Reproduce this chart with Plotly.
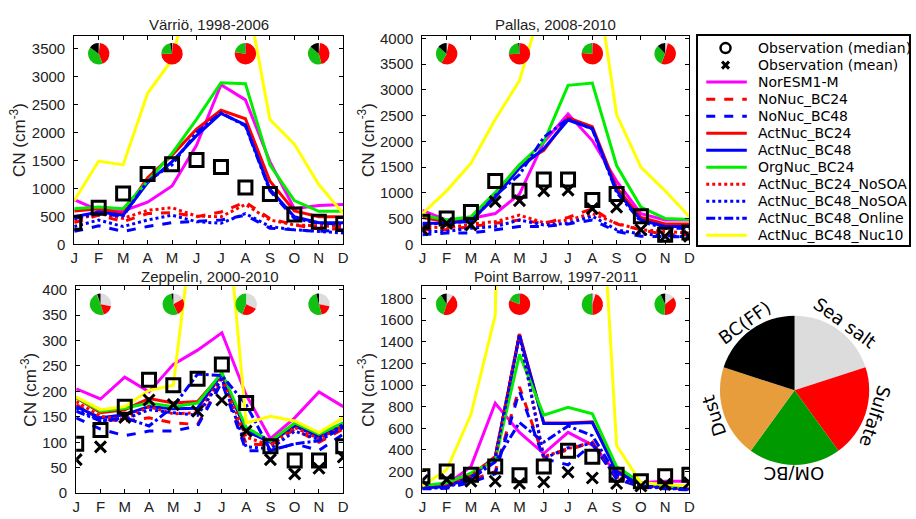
import math
import plotly.graph_objects as go

W, H = 916, 519

months = [1, 2, 3, 4, 5, 6, 7, 8, 9, 10, 11, 12]
month_labels = ["J", "F", "M", "A", "M", "J", "J", "A", "S", "O", "N", "D"]

series_names = ["NorESM1-M", "NoNuc_BC24", "NoNuc_BC48", "ActNuc_BC24", "ActNuc_BC48",
                "OrgNuc_BC24", "ActNuc_BC24_NoSOA", "ActNuc_BC48_NoSOA",
                "ActNuc_BC48_Online", "ActNuc_BC48_Nuc10"]

# ---------------- Värriö ----------------
varrio_obs_median = [389, 656, 911, 1259, 1434, 1509, 1381, 1016, 900, 534, 406, 366]
varrio_obs_mean = [None, None, None, None, None, None, None, None, None, None, None, None]
varrio_noresm = [800, 610, 598, 755, 1045, 1770, 2855, 2583, 1480, 638, 696, 714]
varrio_nonuc24 = [389, 522, 406, 551, 569, 493, 580, 755, 464, 348, 273, 273]
varrio_nonuc48 = [232, 331, 232, 319, 389, 406, 435, 522, 290, 261, 232, 261]
varrio_act24 = [598, 638, 551, 1190, 1596, 2060, 2397, 2246, 1132, 598, 493, 493]
varrio_act48 = [493, 580, 522, 1103, 1480, 1944, 2339, 2136, 987, 493, 389, 389]
varrio_org24 = [638, 667, 638, 1130, 1625, 2235, 2890, 2873, 1422, 783, 592, 592]
varrio_act24_nosoa = [435, 551, 464, 609, 656, 505, 493, 714, 435, 348, 331, 319]
varrio_act48_nosoa = [319, 435, 319, 435, 522, 406, 377, 551, 319, 261, 232, 203]
varrio_online = [464, 551, 505, 1132, 1422, 2002, 2351, 2118, 958, 464, 377, 366]
varrio_nuc10 = [780, 1490, 1420, 2700, 3300, 5100, 5500, 4600, 2230, 1790, 1070, 550]

# ---------------- Pallas ----------------
pallas_obs_median = [441, 504, 630, 1228, 1039, 1259, 1259, 863, 976, 548, 189, 233]
pallas_obs_mean = [283, 409, 378, 831, 850, 1039, 1052, 693, 724, 283, 157, 157]
pallas_noresm = [661, 472, 504, 598, 976, 1984, 2531, 2015, 1228, 598, 472, 472]
pallas_nonuc24 = [283, 283, 346, 409, 472, 409, 523, 693, 397, 283, 189, 189]
pallas_nonuc48 = [189, 220, 220, 283, 346, 346, 397, 472, 252, 157, 145, 145]
pallas_act24 = [523, 441, 504, 976, 1543, 1826, 2456, 2286, 1102, 523, 397, 397]
pallas_act48 = [409, 409, 460, 913, 1480, 1858, 2412, 2248, 1039, 472, 346, 346]
pallas_org24 = [567, 472, 535, 1008, 1543, 1984, 3086, 3130, 1530, 724, 504, 485]
pallas_act24_nosoa = [346, 315, 397, 441, 567, 422, 472, 598, 409, 283, 252, 220]
pallas_act48_nosoa = [252, 252, 315, 346, 472, 378, 409, 548, 283, 202, 170, 145]
pallas_online = [378, 422, 441, 945, 1354, 2078, 2437, 2235, 1008, 441, 315, 315]
pallas_nuc10 = [598, 1039, 1574, 2424, 3180, 4780, 6000, 5700, 2519, 1499, 1039, 535]

# ---------------- Zeppelin ----------------
zeppelin_obs_median = [97, 124, 170, 223, 212, 225, 253, 177, 92, 64, 64, 92]
zeppelin_obs_mean = [66, 91, 149, 183, 174, 161, 183, 122, 66, 38, 49, 71]
zeppelin_noresm = [205, 185, 228, 199, 253, 281, 315, 193, 107, 148, 199, 170]
zeppelin_nonuc24 = [174, 145, 142, 148, 138, 135, 221, 97, 94, 126, 100, 126]
zeppelin_nonuc48 = [148, 126, 113, 122, 122, 132, 218, 83, 84, 97, 84, 116]
zeppelin_act24 = [188, 158, 164, 186, 177, 180, 234, 126, 103, 135, 113, 135]
zeppelin_act48 = [170, 148, 154, 170, 166, 167, 234, 122, 100, 132, 110, 132]
zeppelin_org24 = [188, 161, 167, 177, 170, 177, 237, 129, 102, 138, 116, 138]
zeppelin_act24_nosoa = [180, 151, 145, 170, 156, 158, 228, 110, 94, 129, 107, 132]
zeppelin_act48_nosoa = [167, 142, 145, 164, 158, 153, 225, 91, 87, 122, 105, 135]
zeppelin_online = [161, 142, 148, 132, 170, 234, 231, 174, 84, 97, 103, 129]
zeppelin_nuc10 = [189, 164, 170, 202, 212, 600, 660, 138, 151, 142, 119, 148]

# ---------------- Point Barrow ----------------
barrow_obs_median = [156, 201, 171, 247, 165, 247, 392, 337, 171, 111, 156, 171]
barrow_obs_mean = [117, 126, 111, 110, 90, 103, 194, 140, 90, 66, 81, 96]
barrow_noresm = [66, 81, 246, 832, 562, 367, 562, 445, 186, 96, 111, 111]
barrow_nonuc24 = [50, 55, 120, 200, 983, 330, 400, 470, 150, 70, 50, 40]
barrow_nonuc48 = [40, 45, 100, 180, 944, 320, 262, 457, 130, 60, 40, 30]
barrow_act24 = [55, 66, 165, 335, 1470, 650, 650, 660, 210, 85, 55, 45]
barrow_act48 = [51, 60, 150, 330, 1460, 644, 644, 653, 200, 81, 51, 40]
barrow_org24 = [66, 96, 186, 306, 1284, 721, 794, 734, 246, 96, 66, 51]
barrow_act24_nosoa = [50, 60, 160, 340, 1479, 337, 412, 472, 150, 70, 50, 40]
barrow_act48_nosoa = [45, 55, 140, 320, 1470, 320, 420, 460, 140, 65, 45, 35]
barrow_online = [45, 55, 130, 290, 653, 472, 622, 532, 170, 75, 50, 40]
barrow_nuc10 = [66, 216, 727, 1643, 11000, 9000, 7000, 4300, 441, 96, 81, 66]

# ---------------- Composition pies (sea salt, sulfate, OM/BC, dust, BC(FF)) ----------------
pie_months = [2, 5, 8, 11]
varrio_pie_feb = [0.02, 0.42, 0.41, 0.0, 0.15]
varrio_pie_may = [0.01, 0.74, 0.22, 0.0, 0.03]
varrio_pie_aug = [0.01, 0.76, 0.22, 0.0, 0.01]
varrio_pie_nov = [0.02, 0.44, 0.40, 0.0, 0.14]
pallas_pie_feb = [0.03, 0.55, 0.28, 0.0, 0.14]
pallas_pie_may = [0.01, 0.73, 0.24, 0.0, 0.02]
pallas_pie_aug = [0.01, 0.75, 0.23, 0.0, 0.01]
pallas_pie_nov = [0.04, 0.52, 0.32, 0.0, 0.12]
zeppelin_pie_feb = [0.28, 0.17, 0.49, 0.01, 0.05]
zeppelin_pie_may = [0.17, 0.26, 0.54, 0.0, 0.03]
zeppelin_pie_aug = [0.32, 0.24, 0.44, 0.0, 0.0]
zeppelin_pie_nov = [0.28, 0.18, 0.50, 0.0, 0.04]
barrow_pie_feb = [0.10, 0.45, 0.36, 0.0, 0.09]
barrow_pie_may = [0.01, 0.80, 0.18, 0.0, 0.01]
barrow_pie_aug = [0.05, 0.45, 0.49, 0.0, 0.01]
barrow_pie_nov = [0.14, 0.37, 0.42, 0.0, 0.07]

key_labels = ["Sea salt", "Sulfate", "OM/BC", "Dust", "BC(FF)"]
key_values = [1, 1, 1, 1, 1]

# ---------------- styles ----------------
styles = {
    "NorESM1-M": ("#FF00FF", "solid"),
    "NoNuc_BC24": ("#FF0000", "dash"),
    "NoNuc_BC48": ("#0000FF", "dash"),
    "ActNuc_BC24": ("#FF0000", "solid"),
    "ActNuc_BC48": ("#0000FF", "solid"),
    "OrgNuc_BC24": ("#00EE00", "solid"),
    "ActNuc_BC24_NoSOA": ("#FF0000", "dot"),
    "ActNuc_BC48_NoSOA": ("#0000FF", "dot"),
    "ActNuc_BC48_Online": ("#0000FF", "dashdot"),
    "ActNuc_BC48_Nuc10": ("#FFFF00", "solid"),
}
small_pie_colors = ["#DCDCDC", "#FF0000", "#11C011", "#E89D3C", "#000000"]
key_pie_colors = ["#DCDCDC", "#FF0000", "#009A00", "#E89D3C", "#000000"]

TICK_FONT = dict(family="Liberation Sans, Arial", size=15, color="#222222")
TEXT_FONT = "DejaVu Sans"

panels = [
    dict(title="Värriö, 1998-2006", px=(71, 343), py=(30.5, 245), yr=[0, 3730], dtick=500,
         median=varrio_obs_median, mean=varrio_obs_mean,
         series=[varrio_noresm, varrio_nonuc24, varrio_nonuc48, varrio_act24, varrio_act48,
                 varrio_org24, varrio_act24_nosoa, varrio_act48_nosoa, varrio_online, varrio_nuc10],
         pies=[varrio_pie_feb, varrio_pie_may, varrio_pie_aug, varrio_pie_nov]),
    dict(title="Pallas, 2008-2010", px=(423, 693), py=(30.5, 245), yr=[0, 4050], dtick=500,
         median=pallas_obs_median, mean=pallas_obs_mean,
         series=[pallas_noresm, pallas_nonuc24, pallas_nonuc48, pallas_act24, pallas_act48,
                 pallas_org24, pallas_act24_nosoa, pallas_act48_nosoa, pallas_online, pallas_nuc10],
         pies=[pallas_pie_feb, pallas_pie_may, pallas_pie_aug, pallas_pie_nov]),
    dict(title="Zeppelin, 2000-2010", px=(73, 343), py=(288, 500.7), yr=[0, 406.5], dtick=50,
         median=zeppelin_obs_median, mean=zeppelin_obs_mean,
         series=[zeppelin_noresm, zeppelin_nonuc24, zeppelin_nonuc48, zeppelin_act24, zeppelin_act48,
                 zeppelin_org24, zeppelin_act24_nosoa, zeppelin_act48_nosoa, zeppelin_online, zeppelin_nuc10],
         pies=[zeppelin_pie_feb, zeppelin_pie_may, zeppelin_pie_aug, zeppelin_pie_nov]),
    dict(title="Point Barrow, 1997-2011", px=(423, 693), py=(288, 500.7), yr=[0, 1914], dtick=200,
         median=barrow_obs_median, mean=barrow_obs_mean,
         series=[barrow_noresm, barrow_nonuc24, barrow_nonuc48, barrow_act24, barrow_act48,
                 barrow_org24, barrow_act24_nosoa, barrow_act48_nosoa, barrow_online, barrow_nuc10],
         pies=[barrow_pie_feb, barrow_pie_may, barrow_pie_aug, barrow_pie_nov]),
]

fig = go.Figure()
layout = dict(width=W, height=H, margin=dict(l=0, r=0, t=0, b=0), showlegend=False,
              paper_bgcolor="white", plot_bgcolor="white", annotations=[])

PIE_R = 11
for i, p in enumerate(panels):
    k = "" if i == 0 else str(i + 1)
    xa, ya = "x" + k, "y" + k
    for name, ys in zip(series_names, p["series"]):
        color, dash = styles[name]
        fig.add_trace(go.Scatter(x=months, y=ys, mode="lines", xaxis=xa, yaxis=ya,
                                 line=dict(color=color, width=3, dash=dash), hoverinfo="skip"))
    fig.add_trace(go.Scatter(x=months, y=p["median"], mode="markers", xaxis=xa, yaxis=ya,
                             marker=dict(symbol="square-open", size=13, color="black",
                                         line=dict(width=3, color="black")), hoverinfo="skip"))
    fig.add_trace(go.Scatter(x=months, y=p["mean"], mode="markers", xaxis=xa, yaxis=ya,
                             marker=dict(symbol="x-thin-open", size=11, color="black",
                                         line=dict(width=3, color="black")), hoverinfo="skip"))
    x0, x1 = p["px"]
    y0, y1 = p["py"]
    layout["xaxis" + k] = dict(domain=[x0 / W, x1 / W], range=[1, 12], tickvals=months,
                               ticktext=month_labels, ticks="inside", ticklen=4, mirror="ticks",
                               showline=True, linecolor="black", linewidth=1, showgrid=False,
                               zeroline=False, anchor=ya, tickfont=TICK_FONT, tickcolor="black",
                               ticklabelstandoff=0)
    layout["yaxis" + k] = dict(domain=[1 - y1 / H, 1 - y0 / H], range=p["yr"], dtick=p["dtick"],
                               tick0=0, ticks="inside", ticklen=4, mirror="ticks", showline=True,
                               linecolor="black", linewidth=1, showgrid=False, zeroline=False,
                               anchor=xa, tickfont=TICK_FONT, tickcolor="black",
                               ticklabelstandoff=5,
                               title=dict(text="CN (cm<sup>-3</sup>)", standoff=1,
                                          font=dict(family="Liberation Sans, Arial", size=17, color="#222222")))
    title_gap = 12 if i < 2 else 10.5
    layout["annotations"].append(dict(text=p["title"], x=(x0 + x1) / 2 / W, y=1 - (y0 - title_gap) / H,
                                      xref="paper", yref="paper", showarrow=False,
                                      xanchor="center", yanchor="middle",
                                      font=dict(family="Liberation Sans, Arial", size=15, color="#222222")))
    # small composition pies
    for m, vals in zip(pie_months, p["pies"]):
        cx = x0 + (m - 1) / 11 * (x1 - x0)
        cy = y0 + 18.5
        fig.add_trace(go.Pie(values=vals, labels=key_labels, sort=False, direction="clockwise",
                             rotation=0, textinfo="none", hoverinfo="skip", showlegend=False,
                             marker=dict(colors=small_pie_colors, line=dict(width=0)),
                             domain=dict(x=[(cx - PIE_R) / W, (cx + PIE_R) / W],
                                         y=[1 - (cy + PIE_R) / H, 1 - (cy - PIE_R) / H])))

# ---------------- legend (drawn in its own boxed axis) ----------------
LX0, LX1, LY0, LY1 = 702, 915, 31, 246
layout["xaxis5"] = dict(domain=[LX0 / W, LX1 / W], range=[0, LX1 - LX0], showline=True, mirror=True,
                        linecolor="black", linewidth=1.5, showticklabels=False, ticks="",
                        showgrid=False, zeroline=False, anchor="y5")
layout["yaxis5"] = dict(domain=[1 - LY1 / H, 1 - LY0 / H], range=[11.59, -0.70], showline=True,
                        mirror=True, linecolor="black", linewidth=1.5, showticklabels=False,
                        ticks="", showgrid=False, zeroline=False, anchor="x5")
legend_entries = ["Observation (median)", "Observation (mean)"] + series_names
fig.add_trace(go.Scatter(x=[27.5], y=[0], mode="markers", xaxis="x5", yaxis="y5", hoverinfo="skip",
                         marker=dict(symbol="circle-open", size=10, color="black", line=dict(width=2.5, color="black"))))
fig.add_trace(go.Scatter(x=[27.5], y=[1], mode="markers", xaxis="x5", yaxis="y5", hoverinfo="skip",
                         marker=dict(symbol="x-thin-open", size=7, color="black", line=dict(width=3, color="black"))))
for j, name in enumerate(series_names):
    color, dash = styles[name]
    fig.add_trace(go.Scatter(x=[8, 49], y=[j + 2, j + 2], mode="lines", xaxis="x5", yaxis="y5",
                             hoverinfo="skip", line=dict(color=color, width=3, dash=dash)))
for j, txt in enumerate(legend_entries):
    layout["annotations"].append(dict(text=txt, x=58.5, y=j, xref="x5", yref="y5", showarrow=False,
                                      xanchor="left", yanchor="middle",
                                      font=dict(family=TEXT_FONT, size=14, color="black")))

# ---------------- composition key pie ----------------
KCX, KCY, KR = 799.3, 395, 76.7
fig.add_trace(go.Pie(values=key_values, labels=key_labels, sort=False, direction="clockwise",
                     rotation=0, textinfo="none", hoverinfo="skip", showlegend=False,
                     marker=dict(colors=key_pie_colors, line=dict(width=0)),
                     domain=dict(x=[(KCX - KR) / W, (KCX + KR) / W],
                                 y=[1 - (KCY + KR) / H, 1 - (KCY - KR) / H])))
for idx, lab in enumerate(key_labels):
    ang = 36 + 72 * idx
    r = 86
    tx = KCX + r * math.sin(math.radians(ang))
    ty = KCY - r * math.cos(math.radians(ang))
    ta = ang if ang <= 180 else ang - 360
    layout["annotations"].append(dict(text=lab, x=tx / W, y=1 - ty / H, xref="paper", yref="paper",
                                      showarrow=False, xanchor="center", yanchor="middle",
                                      textangle=ta, font=dict(family=TEXT_FONT, size=18, color="black")))

fig.update_layout(**layout)
fig.write_html("out.html")
